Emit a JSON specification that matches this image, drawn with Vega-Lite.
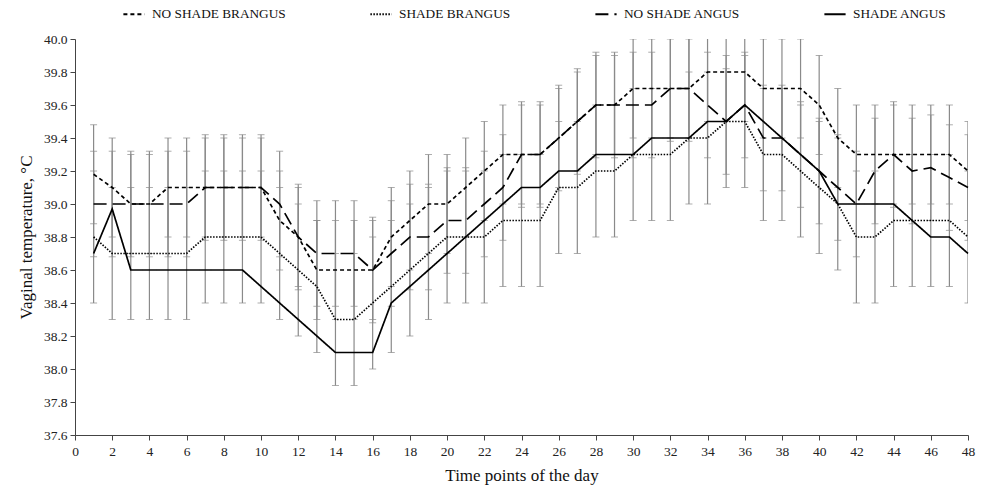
{
  "$schema": "https://vega.github.io/schema/vega-lite/v6.json",
  "width": 893,
  "height": 396,
  "autosize": {"type": "none"},
  "padding": {"left": 75, "top": 39, "right": 19, "bottom": 53},
  "background": "white",
  "config": {
    "font": "Liberation Serif",
    "view": {"stroke": null},
    "axis": {
      "grid": false,
      "domainColor": "#444",
      "tickColor": "#444",
      "labelColor": "#222",
      "titleColor": "#111",
      "labelFont": "Liberation Serif",
      "titleFont": "Liberation Serif",
      "labelFontSize": 13.5,
      "titleFontSize": 17,
      "titleFontWeight": "normal",
      "tickSize": 5
    }
  },
  "datasets": {
    "temps": [
      {"t":1,"s":"NO SHADE BRANGUS","v":39.18,"e":0.3},{"t":1,"s":"SHADE BRANGUS","v":38.8,"e":0.4},{"t":1,"s":"NO SHADE ANGUS","v":39.0,"e":0.32},{"t":1,"s":"SHADE ANGUS","v":38.7,"e":0},
      {"t":2,"s":"NO SHADE BRANGUS","v":39.1,"e":0.3},{"t":2,"s":"SHADE BRANGUS","v":38.7,"e":0.4},{"t":2,"s":"NO SHADE ANGUS","v":39.0,"e":0.32},{"t":2,"s":"SHADE ANGUS","v":38.97,"e":0},
      {"t":3,"s":"NO SHADE BRANGUS","v":39.0,"e":0.3},{"t":3,"s":"SHADE BRANGUS","v":38.7,"e":0.4},{"t":3,"s":"NO SHADE ANGUS","v":39.0,"e":0.32},{"t":3,"s":"SHADE ANGUS","v":38.6,"e":0},
      {"t":4,"s":"NO SHADE BRANGUS","v":39.0,"e":0.3},{"t":4,"s":"SHADE BRANGUS","v":38.7,"e":0.4},{"t":4,"s":"NO SHADE ANGUS","v":39.0,"e":0.32},{"t":4,"s":"SHADE ANGUS","v":38.6,"e":0},
      {"t":5,"s":"NO SHADE BRANGUS","v":39.1,"e":0.3},{"t":5,"s":"SHADE BRANGUS","v":38.7,"e":0.4},{"t":5,"s":"NO SHADE ANGUS","v":39.0,"e":0.32},{"t":5,"s":"SHADE ANGUS","v":38.6,"e":0},
      {"t":6,"s":"NO SHADE BRANGUS","v":39.1,"e":0.3},{"t":6,"s":"SHADE BRANGUS","v":38.7,"e":0.4},{"t":6,"s":"NO SHADE ANGUS","v":39.0,"e":0.32},{"t":6,"s":"SHADE ANGUS","v":38.6,"e":0},
      {"t":7,"s":"NO SHADE BRANGUS","v":39.1,"e":0.3},{"t":7,"s":"SHADE BRANGUS","v":38.8,"e":0.4},{"t":7,"s":"NO SHADE ANGUS","v":39.1,"e":0.32},{"t":7,"s":"SHADE ANGUS","v":38.6,"e":0},
      {"t":8,"s":"NO SHADE BRANGUS","v":39.1,"e":0.3},{"t":8,"s":"SHADE BRANGUS","v":38.8,"e":0.4},{"t":8,"s":"NO SHADE ANGUS","v":39.1,"e":0.32},{"t":8,"s":"SHADE ANGUS","v":38.6,"e":0},
      {"t":9,"s":"NO SHADE BRANGUS","v":39.1,"e":0.3},{"t":9,"s":"SHADE BRANGUS","v":38.8,"e":0.4},{"t":9,"s":"NO SHADE ANGUS","v":39.1,"e":0.32},{"t":9,"s":"SHADE ANGUS","v":38.6,"e":0},
      {"t":10,"s":"NO SHADE BRANGUS","v":39.1,"e":0.3},{"t":10,"s":"SHADE BRANGUS","v":38.8,"e":0.4},{"t":10,"s":"NO SHADE ANGUS","v":39.1,"e":0.32},{"t":10,"s":"SHADE ANGUS","v":38.5,"e":0},
      {"t":11,"s":"NO SHADE BRANGUS","v":38.9,"e":0.3},{"t":11,"s":"SHADE BRANGUS","v":38.7,"e":0.4},{"t":11,"s":"NO SHADE ANGUS","v":39.0,"e":0.32},{"t":11,"s":"SHADE ANGUS","v":38.4,"e":0},
      {"t":12,"s":"NO SHADE BRANGUS","v":38.8,"e":0.3},{"t":12,"s":"SHADE BRANGUS","v":38.6,"e":0.4},{"t":12,"s":"NO SHADE ANGUS","v":38.8,"e":0.32},{"t":12,"s":"SHADE ANGUS","v":38.3,"e":0},
      {"t":13,"s":"NO SHADE BRANGUS","v":38.6,"e":0.3},{"t":13,"s":"SHADE BRANGUS","v":38.5,"e":0.4},{"t":13,"s":"NO SHADE ANGUS","v":38.7,"e":0.32},{"t":13,"s":"SHADE ANGUS","v":38.2,"e":0},
      {"t":14,"s":"NO SHADE BRANGUS","v":38.6,"e":0.3},{"t":14,"s":"SHADE BRANGUS","v":38.3,"e":0.4},{"t":14,"s":"NO SHADE ANGUS","v":38.7,"e":0.32},{"t":14,"s":"SHADE ANGUS","v":38.1,"e":0},
      {"t":15,"s":"NO SHADE BRANGUS","v":38.6,"e":0.3},{"t":15,"s":"SHADE BRANGUS","v":38.3,"e":0.4},{"t":15,"s":"NO SHADE ANGUS","v":38.7,"e":0.32},{"t":15,"s":"SHADE ANGUS","v":38.1,"e":0},
      {"t":16,"s":"NO SHADE BRANGUS","v":38.6,"e":0.3},{"t":16,"s":"SHADE BRANGUS","v":38.4,"e":0.4},{"t":16,"s":"NO SHADE ANGUS","v":38.6,"e":0.32},{"t":16,"s":"SHADE ANGUS","v":38.1,"e":0},
      {"t":17,"s":"NO SHADE BRANGUS","v":38.8,"e":0.3},{"t":17,"s":"SHADE BRANGUS","v":38.5,"e":0.4},{"t":17,"s":"NO SHADE ANGUS","v":38.7,"e":0.32},{"t":17,"s":"SHADE ANGUS","v":38.4,"e":0},
      {"t":18,"s":"NO SHADE BRANGUS","v":38.9,"e":0.3},{"t":18,"s":"SHADE BRANGUS","v":38.6,"e":0.4},{"t":18,"s":"NO SHADE ANGUS","v":38.8,"e":0.32},{"t":18,"s":"SHADE ANGUS","v":38.5,"e":0},
      {"t":19,"s":"NO SHADE BRANGUS","v":39.0,"e":0.3},{"t":19,"s":"SHADE BRANGUS","v":38.7,"e":0.4},{"t":19,"s":"NO SHADE ANGUS","v":38.8,"e":0.32},{"t":19,"s":"SHADE ANGUS","v":38.6,"e":0},
      {"t":20,"s":"NO SHADE BRANGUS","v":39.0,"e":0.3},{"t":20,"s":"SHADE BRANGUS","v":38.8,"e":0.4},{"t":20,"s":"NO SHADE ANGUS","v":38.9,"e":0.32},{"t":20,"s":"SHADE ANGUS","v":38.7,"e":0},
      {"t":21,"s":"NO SHADE BRANGUS","v":39.1,"e":0.3},{"t":21,"s":"SHADE BRANGUS","v":38.8,"e":0.4},{"t":21,"s":"NO SHADE ANGUS","v":38.9,"e":0.32},{"t":21,"s":"SHADE ANGUS","v":38.8,"e":0},
      {"t":22,"s":"NO SHADE BRANGUS","v":39.2,"e":0.3},{"t":22,"s":"SHADE BRANGUS","v":38.8,"e":0.4},{"t":22,"s":"NO SHADE ANGUS","v":39.0,"e":0.32},{"t":22,"s":"SHADE ANGUS","v":38.9,"e":0},
      {"t":23,"s":"NO SHADE BRANGUS","v":39.3,"e":0.3},{"t":23,"s":"SHADE BRANGUS","v":38.9,"e":0.4},{"t":23,"s":"NO SHADE ANGUS","v":39.1,"e":0.32},{"t":23,"s":"SHADE ANGUS","v":39.0,"e":0},
      {"t":24,"s":"NO SHADE BRANGUS","v":39.3,"e":0.3},{"t":24,"s":"SHADE BRANGUS","v":38.9,"e":0.4},{"t":24,"s":"NO SHADE ANGUS","v":39.3,"e":0.32},{"t":24,"s":"SHADE ANGUS","v":39.1,"e":0},
      {"t":25,"s":"NO SHADE BRANGUS","v":39.3,"e":0.3},{"t":25,"s":"SHADE BRANGUS","v":38.9,"e":0.4},{"t":25,"s":"NO SHADE ANGUS","v":39.3,"e":0.32},{"t":25,"s":"SHADE ANGUS","v":39.1,"e":0},
      {"t":26,"s":"NO SHADE BRANGUS","v":39.4,"e":0.3},{"t":26,"s":"SHADE BRANGUS","v":39.1,"e":0.4},{"t":26,"s":"NO SHADE ANGUS","v":39.4,"e":0.32},{"t":26,"s":"SHADE ANGUS","v":39.2,"e":0},
      {"t":27,"s":"NO SHADE BRANGUS","v":39.5,"e":0.3},{"t":27,"s":"SHADE BRANGUS","v":39.1,"e":0.4},{"t":27,"s":"NO SHADE ANGUS","v":39.5,"e":0.32},{"t":27,"s":"SHADE ANGUS","v":39.2,"e":0},
      {"t":28,"s":"NO SHADE BRANGUS","v":39.6,"e":0.3},{"t":28,"s":"SHADE BRANGUS","v":39.2,"e":0.4},{"t":28,"s":"NO SHADE ANGUS","v":39.6,"e":0.32},{"t":28,"s":"SHADE ANGUS","v":39.3,"e":0},
      {"t":29,"s":"NO SHADE BRANGUS","v":39.6,"e":0.3},{"t":29,"s":"SHADE BRANGUS","v":39.2,"e":0.4},{"t":29,"s":"NO SHADE ANGUS","v":39.6,"e":0.32},{"t":29,"s":"SHADE ANGUS","v":39.3,"e":0},
      {"t":30,"s":"NO SHADE BRANGUS","v":39.7,"e":0.3},{"t":30,"s":"SHADE BRANGUS","v":39.3,"e":0.4},{"t":30,"s":"NO SHADE ANGUS","v":39.6,"e":0.32},{"t":30,"s":"SHADE ANGUS","v":39.3,"e":0},
      {"t":31,"s":"NO SHADE BRANGUS","v":39.7,"e":0.3},{"t":31,"s":"SHADE BRANGUS","v":39.3,"e":0.4},{"t":31,"s":"NO SHADE ANGUS","v":39.6,"e":0.32},{"t":31,"s":"SHADE ANGUS","v":39.4,"e":0},
      {"t":32,"s":"NO SHADE BRANGUS","v":39.7,"e":0.3},{"t":32,"s":"SHADE BRANGUS","v":39.3,"e":0.4},{"t":32,"s":"NO SHADE ANGUS","v":39.7,"e":0.32},{"t":32,"s":"SHADE ANGUS","v":39.4,"e":0},
      {"t":33,"s":"NO SHADE BRANGUS","v":39.7,"e":0.3},{"t":33,"s":"SHADE BRANGUS","v":39.4,"e":0.4},{"t":33,"s":"NO SHADE ANGUS","v":39.7,"e":0.32},{"t":33,"s":"SHADE ANGUS","v":39.4,"e":0},
      {"t":34,"s":"NO SHADE BRANGUS","v":39.8,"e":0.3},{"t":34,"s":"SHADE BRANGUS","v":39.4,"e":0.4},{"t":34,"s":"NO SHADE ANGUS","v":39.6,"e":0.32},{"t":34,"s":"SHADE ANGUS","v":39.5,"e":0},
      {"t":35,"s":"NO SHADE BRANGUS","v":39.8,"e":0.3},{"t":35,"s":"SHADE BRANGUS","v":39.5,"e":0.4},{"t":35,"s":"NO SHADE ANGUS","v":39.5,"e":0.32},{"t":35,"s":"SHADE ANGUS","v":39.5,"e":0},
      {"t":36,"s":"NO SHADE BRANGUS","v":39.8,"e":0.3},{"t":36,"s":"SHADE BRANGUS","v":39.5,"e":0.4},{"t":36,"s":"NO SHADE ANGUS","v":39.6,"e":0.32},{"t":36,"s":"SHADE ANGUS","v":39.6,"e":0},
      {"t":37,"s":"NO SHADE BRANGUS","v":39.7,"e":0.3},{"t":37,"s":"SHADE BRANGUS","v":39.3,"e":0.4},{"t":37,"s":"NO SHADE ANGUS","v":39.4,"e":0.32},{"t":37,"s":"SHADE ANGUS","v":39.5,"e":0},
      {"t":38,"s":"NO SHADE BRANGUS","v":39.7,"e":0.3},{"t":38,"s":"SHADE BRANGUS","v":39.3,"e":0.4},{"t":38,"s":"NO SHADE ANGUS","v":39.4,"e":0.32},{"t":38,"s":"SHADE ANGUS","v":39.4,"e":0},
      {"t":39,"s":"NO SHADE BRANGUS","v":39.7,"e":0.3},{"t":39,"s":"SHADE BRANGUS","v":39.2,"e":0.4},{"t":39,"s":"NO SHADE ANGUS","v":39.3,"e":0.32},{"t":39,"s":"SHADE ANGUS","v":39.3,"e":0},
      {"t":40,"s":"NO SHADE BRANGUS","v":39.6,"e":0.3},{"t":40,"s":"SHADE BRANGUS","v":39.1,"e":0.4},{"t":40,"s":"NO SHADE ANGUS","v":39.2,"e":0.32},{"t":40,"s":"SHADE ANGUS","v":39.2,"e":0},
      {"t":41,"s":"NO SHADE BRANGUS","v":39.4,"e":0.3},{"t":41,"s":"SHADE BRANGUS","v":39.0,"e":0.4},{"t":41,"s":"NO SHADE ANGUS","v":39.1,"e":0.32},{"t":41,"s":"SHADE ANGUS","v":39.0,"e":0},
      {"t":42,"s":"NO SHADE BRANGUS","v":39.3,"e":0.3},{"t":42,"s":"SHADE BRANGUS","v":38.8,"e":0.4},{"t":42,"s":"NO SHADE ANGUS","v":39.0,"e":0.32},{"t":42,"s":"SHADE ANGUS","v":39.0,"e":0},
      {"t":43,"s":"NO SHADE BRANGUS","v":39.3,"e":0.3},{"t":43,"s":"SHADE BRANGUS","v":38.8,"e":0.4},{"t":43,"s":"NO SHADE ANGUS","v":39.2,"e":0.32},{"t":43,"s":"SHADE ANGUS","v":39.0,"e":0},
      {"t":44,"s":"NO SHADE BRANGUS","v":39.3,"e":0.3},{"t":44,"s":"SHADE BRANGUS","v":38.9,"e":0.4},{"t":44,"s":"NO SHADE ANGUS","v":39.3,"e":0.32},{"t":44,"s":"SHADE ANGUS","v":39.0,"e":0},
      {"t":45,"s":"NO SHADE BRANGUS","v":39.3,"e":0.3},{"t":45,"s":"SHADE BRANGUS","v":38.9,"e":0.4},{"t":45,"s":"NO SHADE ANGUS","v":39.2,"e":0.32},{"t":45,"s":"SHADE ANGUS","v":38.9,"e":0},
      {"t":46,"s":"NO SHADE BRANGUS","v":39.3,"e":0.3},{"t":46,"s":"SHADE BRANGUS","v":38.9,"e":0.4},{"t":46,"s":"NO SHADE ANGUS","v":39.22,"e":0.32},{"t":46,"s":"SHADE ANGUS","v":38.8,"e":0},
      {"t":47,"s":"NO SHADE BRANGUS","v":39.3,"e":0.3},{"t":47,"s":"SHADE BRANGUS","v":38.9,"e":0.4},{"t":47,"s":"NO SHADE ANGUS","v":39.16,"e":0.32},{"t":47,"s":"SHADE ANGUS","v":38.8,"e":0},
      {"t":48,"s":"NO SHADE BRANGUS","v":39.2,"e":0.3},{"t":48,"s":"SHADE BRANGUS","v":38.8,"e":0.4},{"t":48,"s":"NO SHADE ANGUS","v":39.1,"e":0.32},{"t":48,"s":"SHADE ANGUS","v":38.7,"e":0}
    ]
  },
  "data": {"name": "temps"},
  "encoding": {
    "x": {
      "field": "t",
      "type": "quantitative",
      "scale": {"domain": [0, 48], "nice": false},
      "axis": {
        "title": "Time points of the day",
        "values": [0,2,4,6,8,10,12,14,16,18,20,22,24,26,28,30,32,34,36,38,40,42,44,46,48],
        "labelPadding": 4,
        "titlePadding": 10,
        "labelFlush": false
      }
    },
    "y": {
      "field": "v",
      "type": "quantitative",
      "scale": {"domain": [37.6, 40.0], "nice": false, "zero": false},
      "axis": {
        "title": "Vaginal temperature, °C",
        "values": [37.6,37.8,38.0,38.2,38.4,38.6,38.8,39.0,39.2,39.4,39.6,39.8,40.0],
        "format": ".1f",
        "labelPadding": 3,
        "titlePadding": 8
      }
    }
  },
  "layer": [
    {
      "transform": [{"filter": "datum.e > 0"}],
      "mark": {
        "type": "errorbar",
        "clip": true,
        "rule": {"color": "#8a8a8a", "strokeWidth": 1.2},
        "ticks": {"color": "#8a8a8a", "size": 7, "strokeWidth": 1.2}
      },
      "encoding": {
        "yError": {"field": "e"},
        "detail": {"field": "s", "type": "nominal"}
      }
    },
    {
      "mark": {"type": "line", "color": "#000", "strokeWidth": 1.7},
      "encoding": {
        "strokeDash": {
          "field": "s",
          "type": "nominal",
          "scale": {
            "domain": ["NO SHADE BRANGUS", "SHADE BRANGUS", "NO SHADE ANGUS", "SHADE ANGUS"],
            "range": [[4, 3], [1.5, 1.5], [13, 6], [1, 0]]
          },
          "legend": {
            "orient": "none",
            "legendX": 47,
            "legendY": -37,
            "direction": "horizontal",
            "columns": 4,
            "columnPadding": 80,
            "title": null,
            "symbolType": "stroke",
            "symbolStrokeColor": "#000",
            "symbolStrokeWidth": 2,
            "symbolSize": 450,
            "labelFont": "Liberation Serif",
            "labelFontSize": 13.3,
            "labelColor": "#111",
            "labelLimit": 300,
            "labelOffset": 6
          }
        }
      }
    }
  ]
}
